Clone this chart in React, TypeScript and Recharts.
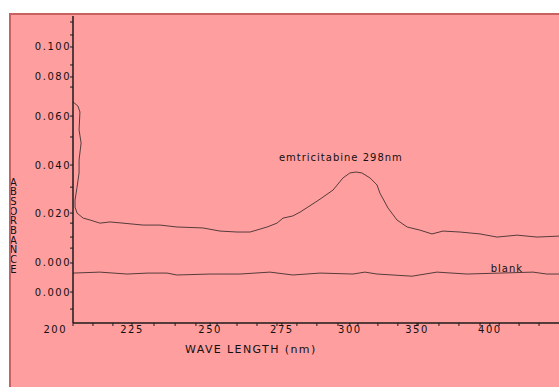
import React from 'react';
import { LineChart, Line, XAxis, YAxis, ReferenceDot } from 'recharts';

// Emtricitabine spectrum (wavelength nm, absorbance)
const emtWavelength = [
  200.0, 201.7, 202.4, 202.1, 202.8, 202.1, 202.1, 201.4, 200.7, 200.7, 201.4, 203.5,
  205.9, 209.3, 212.8, 217.3, 224.2, 230.1, 235.9, 244.9, 250.8, 256.7, 261.2, 264.6,
  267.1, 270.5, 272.6, 276.0, 278.5, 281.2, 285.4, 289.9, 293.3, 295.7, 297.8, 299.9,
  302.7, 305.1, 306.1, 308.9, 312.0, 315.5, 319.9, 324.1, 327.9, 333.8, 340.7, 346.6,
  353.5, 360.4, 368.0,
];
const emtAbsorbance = [
  0.0663, 0.0646, 0.0621, 0.0546, 0.0492, 0.0421, 0.0367, 0.0308, 0.0254, 0.0225, 0.02, 0.0179,
  0.0171, 0.0158, 0.0163, 0.0158, 0.015, 0.015, 0.0142, 0.0138, 0.0125, 0.0121, 0.0121, 0.0133,
  0.0142, 0.0158, 0.0179, 0.0188, 0.0204, 0.0225, 0.0258, 0.0296, 0.0346, 0.0367, 0.0371, 0.0367,
  0.0346, 0.0317, 0.0283, 0.0221, 0.0171, 0.0142, 0.0129, 0.0113, 0.0125, 0.0121, 0.0113, 0.01,
  0.0108, 0.01, 0.0104,
];

// Blank spectrum
const blankWavelength = [
  200.0, 209.3, 218.7, 225.9, 232.5, 235.9, 247.4, 257.7, 268.1, 276.0, 285.4, 296.8,
  300.9, 305.1, 317.2, 325.8, 336.2, 347.6, 359.0, 363.8, 368.0,
];
const blankAbsorbance = [
  -0.005, -0.0046, -0.0054, -0.005, -0.005, -0.0058, -0.0054, -0.0054, -0.0046, -0.0058, -0.005, -0.0054,
  -0.0046, -0.0054, -0.0063, -0.0046, -0.0054, -0.005, -0.0046, -0.0054, -0.0054,
];

// Axis ticks (as printed on the reference)
const xLabelTicks = [200, 220.4, 247.4, 272.2, 295.7, 318.9, 344.1];
const xLabelTexts = ['200', '225', '250', '275', '300', '350', '400'];
const xMinorTicks = [
  206.9, 213.8, 228.0, 235.3, 242.5, 249.8, 256.7, 263.6, 270.5, 277.4, 284.3, 291.6,
  298.5, 305.4, 312.3, 319.3, 326.5, 333.4, 340.7, 347.3, 354.2, 361.1,
];
const yLabelTicks = [0.0892, 0.0767, 0.0604, 0.04, 0.02, -0.0008, -0.0129];
const yLabelTexts = ['0.100', '0.080', '0.060', '0.040', '0.020', '0.000', '0.000'];
const yMinorTicks = [0.0996, 0.0942, 0.0817, 0.0725, 0.0517, 0.0308, 0.0158, 0.01, 0.0054, -0.02];

const xTitle = 'WAVE LENGTH (nm)';
const yTitle = 'ABSORBANCE';
const peakNote = { x: 292.6, y: 0.0433, text: 'emtricitabine 298nm' };
const blankNote = { x: 350.0, y: -0.0029, text: 'blank' };

const emtData = emtWavelength.map((x, i) => ({ x, y: emtAbsorbance[i] }));
const blankData = blankWavelength.map((x, i) => ({ x, y: blankAbsorbance[i] }));

const FONT = '"DejaVu Sans", Arial, sans-serif';
const TXT = '#141010';
const LINE = '#553c3c';

const XTick = (props: any) => {
  const { x, y, payload } = props;
  const idx = xLabelTicks.indexOf(payload.value);
  if (idx < 0) return <g />;
  const first = idx === 0;
  return (
    <text
      x={first ? x - 6 : x}
      y={y + 6.5}
      textAnchor={first ? 'end' : 'middle'}
      fontFamily={FONT}
      fontSize={10}
      letterSpacing={1.5}
      fill={TXT}
    >
      {xLabelTexts[idx]}
    </text>
  );
};

const YTick = (props: any) => {
  const { x, y, payload } = props;
  const idx = yLabelTicks.indexOf(payload.value);
  if (idx < 0) return <g />;
  return (
    <text
      x={x + 1}
      y={y}
      dy="0.35em"
      textAnchor="end"
      fontFamily={FONT}
      fontSize={10}
      letterSpacing={1.5}
      fill={TXT}
    >
      {yLabelTexts[idx]}
    </text>
  );
};

const noteLabel = (text: string) => (p: any) => {
  const vb = p.viewBox || {};
  const cx = (vb.x ?? 0) + (vb.width ?? 0) / 2;
  const cy = (vb.y ?? 0) + (vb.height ?? 0) / 2;
  return (
    <text x={cx} y={cy} dy="0.35em" textAnchor="middle" fontFamily={FONT} fontSize={10} letterSpacing={1} fill={TXT}>
      {text}
    </text>
  );
};

export default function App() {
  return (
    <div
      style={{
        position: 'absolute',
        left: 9,
        top: 13,
        width: 550,
        height: 374,
        boxSizing: 'border-box',
        background: '#FF9E9E',
        borderLeft: '2px solid #C86262',
        borderTop: '2px solid #C86262',
      }}
    >
      <LineChart width={548} height={372} margin={{ top: 1, right: 0, bottom: 34, left: 0 }}>
        <XAxis
          dataKey="x"
          type="number"
          domain={[200, 368]}
          allowDataOverflow
          ticks={[...xLabelTicks, ...xMinorTicks].sort((a, b) => a - b)}
          interval={0}
          height={30}
          tickSize={3}
          tickMargin={0}
          tick={XTick}
          axisLine={{ stroke: '#1e1a1a', strokeWidth: 1.5 }}
          tickLine={{ stroke: '#1e1a1a', strokeWidth: 1 }}
          label={(p: any) => {
            const vb = p.viewBox || { x: 62, y: 308 };
            return (
              <text x={vb.x + 112} y={vb.y + 30} fontFamily={FONT} fontSize={11} letterSpacing={1.4} fill={TXT}>
                {xTitle}
              </text>
            );
          }}
        />
        <YAxis
          type="number"
          domain={[-0.0258, 0.1021]}
          allowDataOverflow
          ticks={[...yLabelTicks, ...yMinorTicks].sort((a, b) => b - a)}
          interval={0}
          width={62}
          tickSize={3}
          tickMargin={0}
          tick={YTick}
          axisLine={{ stroke: '#1e1a1a', strokeWidth: 1.5 }}
          tickLine={{ stroke: '#1e1a1a', strokeWidth: 1 }}
          label={(p: any) => {
            const vb = p.viewBox || { x: 0, y: 1 };
            return (
              <g>
                {yTitle.split('').map((ch, i) => (
                  <text
                    key={i}
                    x={vb.x + 2.5}
                    y={vb.y + 166 + i * 9.7}
                    dy="0.35em"
                    textAnchor="middle"
                    fontFamily={FONT}
                    fontSize={10}
                    fill={TXT}
                  >
                    {ch}
                  </text>
                ))}
              </g>
            );
          }}
        />
        <Line
          data={emtData}
          dataKey="y"
          type="linear"
          stroke={LINE}
          strokeWidth={1}
          dot={false}
          isAnimationActive={false}
        />
        <Line
          data={blankData}
          dataKey="y"
          type="linear"
          stroke={LINE}
          strokeWidth={1}
          dot={false}
          isAnimationActive={false}
        />
        <ReferenceDot x={peakNote.x} y={peakNote.y} r={1} fill="none" stroke="none" label={noteLabel(peakNote.text)} />
        <ReferenceDot x={blankNote.x} y={blankNote.y} r={1} fill="none" stroke="none" label={noteLabel(blankNote.text)} />
      </LineChart>
    </div>
  );
}
